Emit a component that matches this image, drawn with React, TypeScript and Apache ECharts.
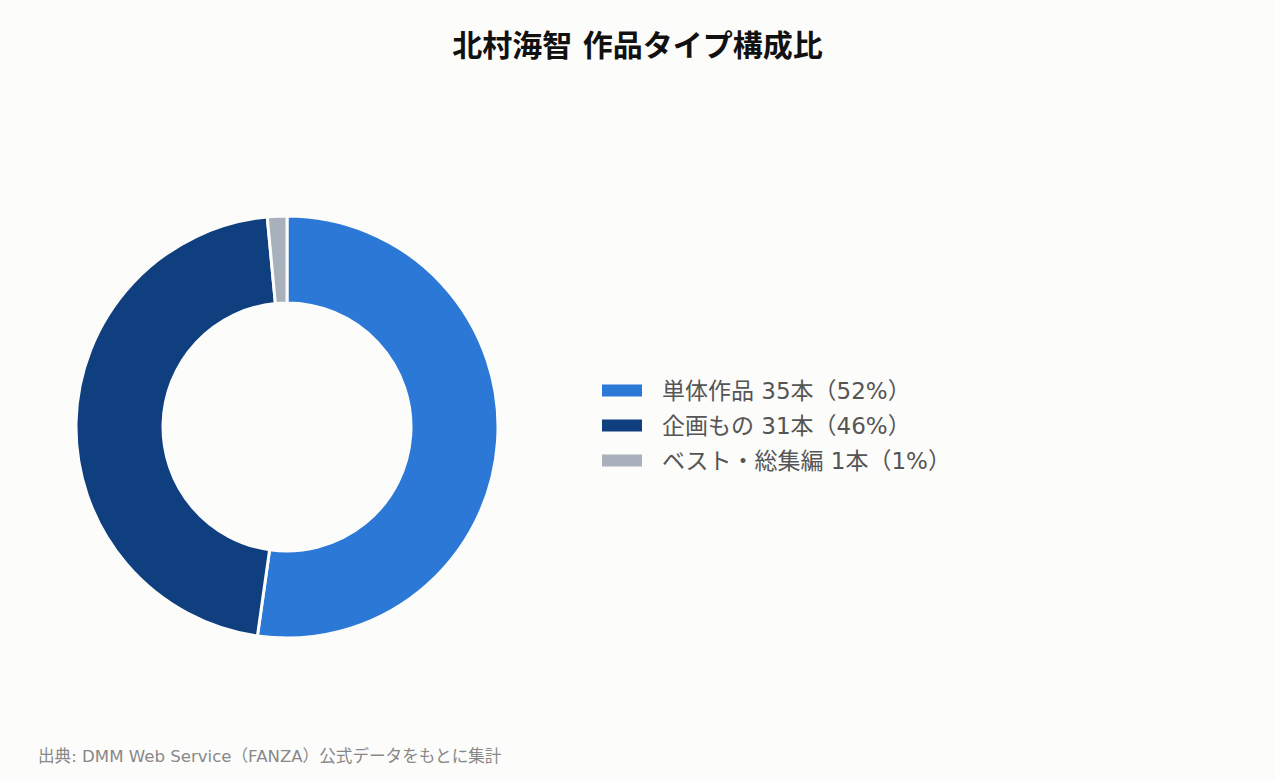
import React, { useEffect, useRef } from 'react';
import * as echarts from 'echarts';

const categories = ['単体作品', '企画もの', 'ベスト・総集編'];
const counts = [35, 31, 1];
const colors = ['#2b78d6', '#0f3f7f', '#a8b0bb'];

const total = counts.reduce((a, b) => a + b, 0);
const legendLabels = categories.map(
  (c, i) => `${c} ${counts[i]}本（${Math.round((counts[i] / total) * 100)}%）`
);

export default function App() {
  const chartRef = useRef<HTMLDivElement>(null);

  useEffect(() => {
    document.body.style.margin = '0';
    if (!chartRef.current) return;
    const chart = echarts.init(chartRef.current, null, { renderer: 'svg' });

    const font = '"DejaVu Sans", "Noto Sans CJK JP", sans-serif';
    chart.setOption({
      animation: false,
      backgroundColor: '#fcfcfb',
      title: [
        {
          text: '北村海智 作品タイプ構成比',
          left: 'center',
          top: 25,
          textStyle: { fontFamily: font, fontSize: 30, fontWeight: 'bold', color: '#111' },
        },
        {
          text: '出典: DMM Web Service（FANZA）公式データをもとに集計',
          left: 38,
          top: 748,
          padding: 0,
          textStyle: { fontFamily: font, fontSize: 16.6, fontWeight: 'normal', color: '#888' },
        },
      ],
      legend: {
        orient: 'vertical',
        left: 600,
        top: 379,
        padding: 0,
        itemWidth: 42,
        itemHeight: 14,
        itemGap: 12,
        icon: 'rect',
        data: legendLabels,
        textStyle: { fontFamily: font, fontSize: 23, color: '#555', padding: [0, 0, 0, 14] },
      },
      series: [
        {
          type: 'pie',
          center: [287, 427],
          radius: [124, 211],
          startAngle: 90,
          label: { show: false },
          labelLine: { show: false },
          emphasis: { disabled: true },
          itemStyle: { borderColor: '#fcfcfb', borderWidth: 3 },
          data: legendLabels.map((name, i) => ({
            name,
            value: counts[i],
            itemStyle: { color: colors[i] },
          })),
        },
      ],
    });

    return () => chart.dispose();
  }, []);

  return <div ref={chartRef} style={{ width: '1275px', height: '780px' }} />;
}
